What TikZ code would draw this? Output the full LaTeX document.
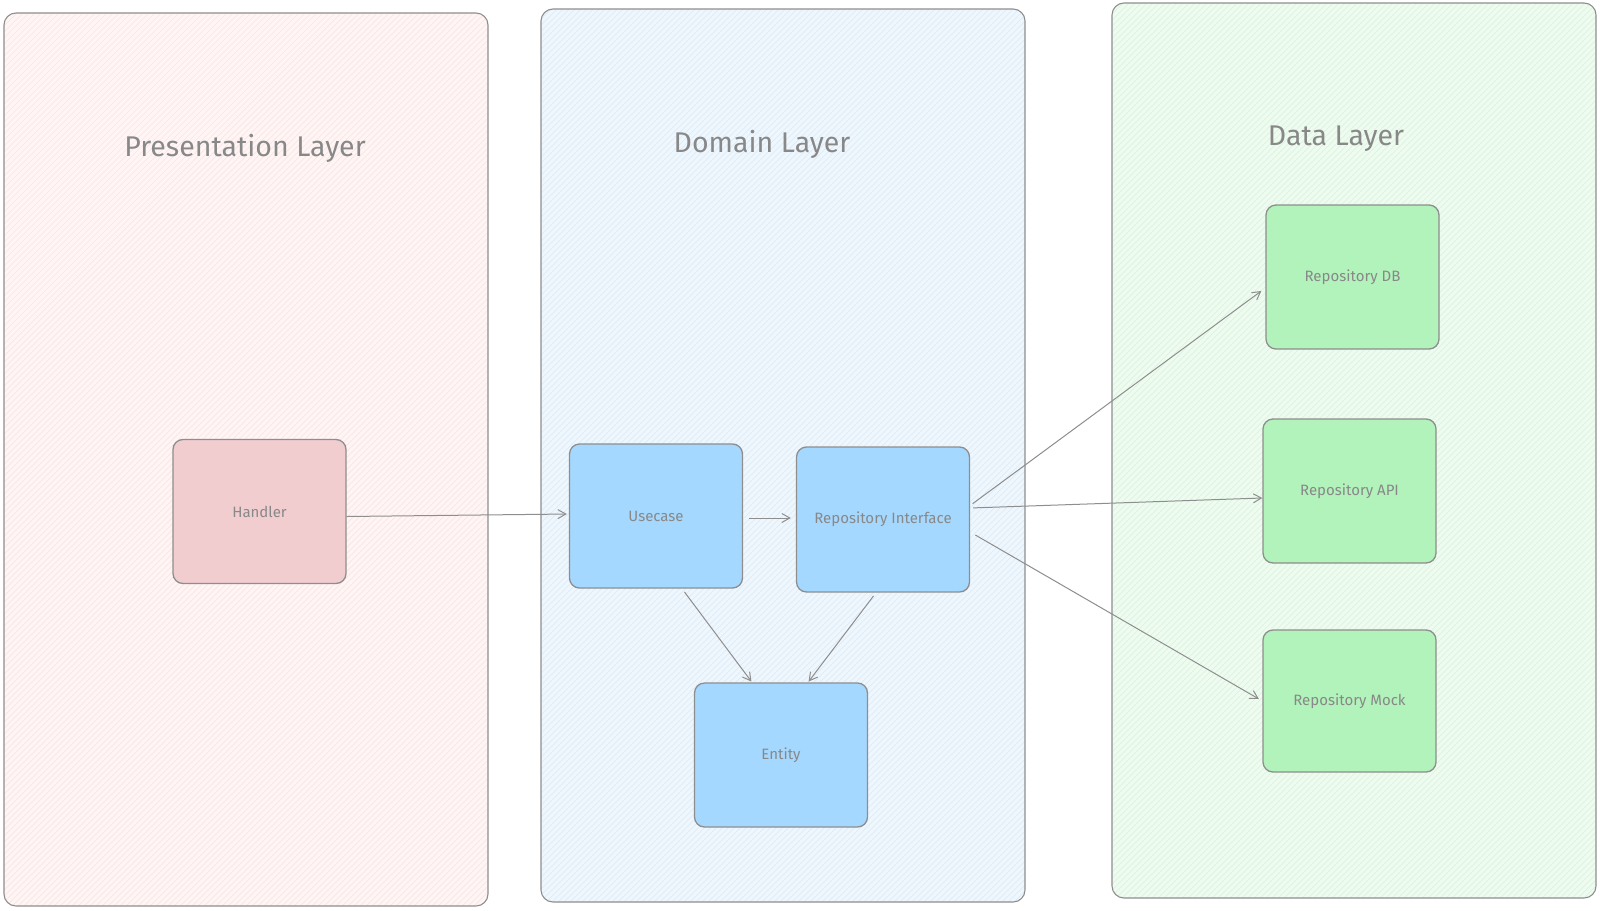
\documentclass[tikz,border=0pt]{standalone}
\usepackage{fontspec}
\setmainfont{Fira Sans}
\usetikzlibrary{arrows.meta,calc}
\definecolor{strk}{HTML}{8E8E8E}
\definecolor{txt}{HTML}{888888}
\definecolor{presfill}{HTML}{FFF5F5}
\definecolor{preshatch}{HTML}{FFE3E3}
\definecolor{domfill}{HTML}{EFF7FE}
\definecolor{domhatch}{HTML}{DAEDFC}
\definecolor{datafill}{HTML}{EEFCF0}
\definecolor{datahatch}{HTML}{D6F6DC}
\definecolor{redbox}{HTML}{F2CDD0}
\definecolor{bluebox}{HTML}{A5D8FF}
\definecolor{greenbox}{HTML}{B2F2BB}
\tikzset{
  panelborder/.style={draw=strk, line width=1.1pt, rounded corners=12pt},
  comp/.style={draw=strk, line width=1.3pt, rounded corners=10pt, minimum width=173pt, minimum height=144pt, inner sep=0pt, text=txt, font=\fontsize{15}{17}\selectfont},
  title/.style={text=txt, font=\fontsize{28.5}{31}\selectfont},
  conn/.style={draw=strk, line width=1pt, -{Straight Barb[length=8pt,width=9pt,line width=1pt]}, shorten >=2pt, shorten <=2pt}
}
\newcommand{\hatchpanel}[6]{%
  \begin{scope}
    \clip[rounded corners=12pt] (#1,#2) rectangle (#3,#4);
    \fill[#5] (#1,#2) rectangle (#3,#4);
    \foreach \i in {-930,-924,...,#3} {
      \draw[#6, line width=0.7pt] (\i,#4) -- ++(960,-960);
    }
  \end{scope}
  \draw[panelborder] (#1,#2) rectangle (#3,#4);
}
\begin{document}
\begin{tikzpicture}[x=1pt,y=-1pt]
\useasboundingbox (0,0) rectangle (1600,910);
\fill[white] (0,0) rectangle (1600,910);

% panels
\hatchpanel{4}{13}{488}{906}{presfill}{preshatch}
\hatchpanel{541}{9}{1025}{902}{domfill}{domhatch}
\hatchpanel{1112}{3}{1596}{898}{datafill}{datahatch}

% titles
\node[title] (tpres) at (245,148) {Presentation Layer};
\node[title] (tdom) at (762,144) {Domain Layer};
\node[title] (tdata) at (1336,139) {Data Layer};

% components
\node[comp, fill=redbox] (H) at (259.5,511.5) {Handler};
\node[comp, fill=bluebox] (U) at (656,516) {Usecase};
\node[comp, fill=bluebox, minimum height=145pt] (R) at (883,519.5) {Repository Interface};
\node[comp, fill=bluebox] (E) at (781,755) {Entity};
\node[comp, fill=greenbox] (DB) at (1352.5,277) {Repository DB};
\node[comp, fill=greenbox] (API) at (1349.5,491) {Repository API};
\node[comp, fill=greenbox, minimum height=142pt] (M) at (1349.5,701) {Repository Mock};

% connectors
\draw[conn, shorten <=0pt] ([yshift=-5pt]H.east) -- ([yshift=2pt]U.west);
\draw[conn, shorten <=6pt, shorten >=5pt] ([yshift=-2pt]U.east) -- ([yshift=1.5pt]R.west);
\draw[conn, shorten <=4pt, shorten >=1pt] ([xshift=26pt]U.south) -- ([xshift=-29pt]E.north);
\draw[conn, shorten <=4pt, shorten >=1pt] ([xshift=-7pt]R.south) -- ([xshift=27pt]E.north);
\draw[conn, shorten <=3pt, shorten >=5pt] ([yshift=14pt]R.east) -- ([yshift=-11pt]DB.west);
\draw[conn, shorten <=3pt, shorten >=0pt] ([yshift=11.5pt]R.east) -- ([yshift=-7pt]API.west);
\draw[conn, shorten <=6pt, shorten >=4pt] ([yshift=-12.5pt]R.east) -- ([yshift=0pt]M.west);
\end{tikzpicture}
\end{document}
